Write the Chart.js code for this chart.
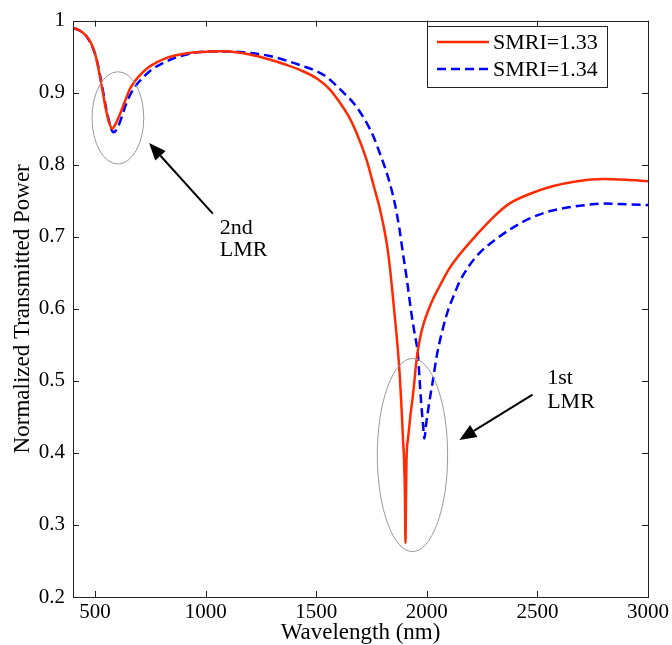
<!DOCTYPE html>
<html>
<head>
<meta charset="utf-8">
<script src="https://cdn.jsdelivr.net/npm/chart.js@4.4.1/dist/chart.umd.min.js"></script>
<style>
  html, body { margin: 0; padding: 0; background: #fff; }
</style>
</head>
<body>
<canvas id="lmrChart" width="672" height="645"></canvas>

<script>
  // data
  const redLabel = "SMRI=1.33";
  const redWavelength = [400, 425, 450, 470, 490, 505, 520, 535, 548, 562, 577, 595, 612, 635, 657, 680, 702, 740, 778, 830, 883, 950, 1018, 1080, 1139, 1200, 1289, 1360, 1438, 1506, 1560, 1605, 1645, 1681, 1726, 1763, 1785, 1805, 1820, 1833, 1846, 1858, 1869, 1878, 1886, 1892, 1897, 1901, 1903.5, 1905.5, 1908, 1915, 1925, 1935, 1944, 1951, 1962, 1974, 1988, 2004, 2030, 2057, 2102, 2147, 2223, 2300, 2373, 2470, 2568, 2680, 2794, 2900, 3000];
  const redPower = [0.990, 0.987, 0.982, 0.975, 0.963, 0.948, 0.925, 0.900, 0.878, 0.860, 0.850, 0.858, 0.870, 0.888, 0.905, 0.916, 0.924, 0.935, 0.942, 0.949, 0.953, 0.956, 0.957, 0.9575, 0.956, 0.953, 0.946, 0.939, 0.930, 0.919, 0.905, 0.887, 0.868, 0.845, 0.808, 0.767, 0.742, 0.714, 0.688, 0.657, 0.618, 0.580, 0.543, 0.505, 0.460, 0.420, 0.390, 0.340, 0.275, 0.330, 0.390, 0.420, 0.450, 0.475, 0.500, 0.523, 0.547, 0.566, 0.582, 0.596, 0.615, 0.631, 0.656, 0.675, 0.702, 0.727, 0.746, 0.760, 0.770, 0.777, 0.780, 0.779, 0.777];

  const blueLabel = "SMRI=1.34";
  const blueWavelength = [400, 425, 450, 470, 490, 510, 530, 550, 565, 582, 600, 620, 635, 660, 690, 720, 760, 800, 850, 900, 960, 1020, 1100, 1200, 1289, 1360, 1438, 1500, 1550, 1590, 1630, 1673, 1726, 1760, 1786, 1815, 1839, 1854, 1876, 1891, 1910, 1929, 1945, 1959, 1967, 1974, 1982, 1989, 1996, 2005, 2015, 2027, 2045, 2072, 2098, 2120, 2147, 2192, 2240, 2297, 2380, 2463, 2550, 2644, 2720, 2794, 2900, 3000];
  const bluePower = [0.990, 0.987, 0.982, 0.974, 0.962, 0.942, 0.912, 0.878, 0.858, 0.845, 0.850, 0.866, 0.880, 0.898, 0.912, 0.922, 0.933, 0.940, 0.947, 0.952, 0.956, 0.957, 0.957, 0.955, 0.951, 0.945, 0.937, 0.930, 0.921, 0.910, 0.898, 0.884, 0.859, 0.838, 0.817, 0.792, 0.767, 0.748, 0.711, 0.679, 0.640, 0.596, 0.565, 0.538, 0.503, 0.471, 0.442, 0.420, 0.438, 0.458, 0.478, 0.500, 0.535, 0.572, 0.600, 0.617, 0.637, 0.660, 0.678, 0.693, 0.711, 0.725, 0.735, 0.741, 0.744, 0.746, 0.745, 0.744];

  const xTicks = [500, 1000, 1500, 2000, 2500, 3000];
  const yTickLabels = ["0.2", "0.3", "0.4", "0.5", "0.6", "0.7", "0.8", "0.9", "1"];

  // annotations (data coordinates)
  const ellipses = [
    { x: 603, y: 0.865, rx: 117, ry: 0.064 },
    { x: 1935, y: 0.397, rx: 159, ry: 0.134 }
  ];
  const arrows = [
    { from: [1032, 0.732], to: [744, 0.830] },
    { from: [2478, 0.481], to: [2147, 0.418] }
  ];
  const notes = [
    { x: 1064, y: 0.712, text: "2nd" },
    { x: 1064, y: 0.682, text: "LMR" },
    { x: 2544, y: 0.503, text: "1st" },
    { x: 2544, y: 0.470, text: "LMR" }
  ];

  const FONT = "'Liberation Serif', 'Times New Roman', serif";

  function toPoints(xs, ys) {
    return xs.map((v, i) => ({ x: v, y: ys[i] }));
  }

  const decorations = {
    id: "decorations",
    afterDraw(chart) {
      const { ctx, chartArea: a, scales } = chart;
      const sx = scales.x, sy = scales.y;
      ctx.save();

      // frame + inward ticks
      ctx.strokeStyle = "#222";
      ctx.lineWidth = 1;
      ctx.strokeRect(Math.round(a.left) + 0.5, Math.round(a.top) + 0.5,
        Math.round(a.right - a.left), Math.round(a.bottom - a.top));
      ctx.beginPath();
      xTicks.forEach((t) => {
        const px = Math.round(sx.getPixelForValue(t)) + 0.5;
        ctx.moveTo(px, a.bottom); ctx.lineTo(px, a.bottom - 6);
        ctx.moveTo(px, a.top); ctx.lineTo(px, a.top + 6);
      });
      yTickLabels.forEach((t) => {
        const py = Math.round(sy.getPixelForValue(parseFloat(t))) + 0.5;
        ctx.moveTo(a.left, py); ctx.lineTo(a.left + 6, py);
        ctx.moveTo(a.right, py); ctx.lineTo(a.right - 6, py);
      });
      ctx.stroke();

      // ellipses
      ctx.strokeStyle = "#999";
      ctx.lineWidth = 1;
      ellipses.forEach((e) => {
        const cx = sx.getPixelForValue(e.x), cy = sy.getPixelForValue(e.y);
        const rx = sx.getPixelForValue(e.x + e.rx) - cx;
        const ry = cy - sy.getPixelForValue(e.y + e.ry);
        ctx.beginPath();
        ctx.ellipse(cx, cy, rx, ry, 0, 0, Math.PI * 2);
        ctx.stroke();
      });

      // arrows
      ctx.strokeStyle = "#000";
      ctx.fillStyle = "#000";
      ctx.lineWidth = 2;
      arrows.forEach((ar) => {
        const x0 = sx.getPixelForValue(ar.from[0]), y0 = sy.getPixelForValue(ar.from[1]);
        const x1 = sx.getPixelForValue(ar.to[0]), y1 = sy.getPixelForValue(ar.to[1]);
        const ang = Math.atan2(y1 - y0, x1 - x0);
        const len = 17, half = 7;
        const bx = x1 - len * Math.cos(ang), by = y1 - len * Math.sin(ang);
        ctx.beginPath();
        ctx.moveTo(x0, y0); ctx.lineTo(bx, by);
        ctx.stroke();
        ctx.beginPath();
        ctx.moveTo(x1, y1);
        ctx.lineTo(bx + half * Math.sin(ang), by - half * Math.cos(ang));
        ctx.lineTo(bx - half * Math.sin(ang), by + half * Math.cos(ang));
        ctx.closePath();
        ctx.fill();
      });

      // notes
      ctx.font = "22px " + FONT;
      ctx.textAlign = "left";
      ctx.textBaseline = "middle";
      notes.forEach((n) => {
        ctx.fillText(n.text, sx.getPixelForValue(n.x), sy.getPixelForValue(n.y));
      });

      // legend box
      const lx = 427, ly = 26, lw = 180, lh = 61;
      ctx.fillStyle = "#fff";
      ctx.fillRect(lx, ly, lw, lh);
      ctx.strokeStyle = "#222";
      ctx.lineWidth = 1;
      ctx.strokeRect(lx + 0.5, ly + 0.5, lw, lh);
      chart.data.datasets.forEach((ds, i) => {
        const yy = ly + 16 + i * 27;
        ctx.strokeStyle = ds.borderColor;
        ctx.lineWidth = ds.borderWidth;
        ctx.setLineDash(ds.borderDash || []);
        ctx.beginPath();
        ctx.moveTo(lx + 10, yy); ctx.lineTo(lx + 62, yy);
        ctx.stroke();
        ctx.setLineDash([]);
        ctx.fillStyle = "#000";
        ctx.font = "22px " + FONT;
        ctx.textBaseline = "middle";
        ctx.fillText(ds.label, lx + 66, yy + 1);
      });

      ctx.restore();
    }
  };

  const ctx = document.getElementById("lmrChart").getContext("2d");
  new Chart(ctx, {
    type: "line",
    data: {
      datasets: [
        {
          label: redLabel,
          data: toPoints(redWavelength, redPower),
          borderColor: "#ff2a00",
          borderWidth: 2.5,
          pointRadius: 0,
          fill: false,
          cubicInterpolationMode: "monotone"
        },
        {
          label: blueLabel,
          data: toPoints(blueWavelength, bluePower),
          borderColor: "#0000ff",
          borderWidth: 2.5,
          borderDash: [9, 5],
          pointRadius: 0,
          fill: false,
          cubicInterpolationMode: "monotone"
        }
      ]
    },
    options: {
      responsive: false,
      animation: false,
      layout: { padding: { top: 18, right: 23, bottom: 0, left: 0 } },
      plugins: {
        legend: { display: false },
        tooltip: { enabled: false }
      },
      scales: {
        x: {
          type: "linear",
          min: 400,
          max: 3000,
          afterBuildTicks: (s) => { s.ticks = xTicks.map((v) => ({ value: v })); },
          afterFit: (s) => { s.height = 48; },
          grid: { display: false, drawTicks: false },
          border: { display: false },
          ticks: { color: "#000", padding: 3, maxRotation: 0, font: { family: FONT, size: 21 }, callback: (value) => String(value) },
          title: { display: true, text: "Wavelength (nm)", color: "#000", padding: { top: 0, bottom: -2 }, font: { family: FONT, size: 23 } }
        },
        y: {
          min: 0.2,
          max: 1,
          afterBuildTicks: (s) => { s.ticks = yTickLabels.map((v) => ({ value: parseFloat(v) })); },
          afterFit: (s) => { s.width = 73; },
          grid: { display: false, drawTicks: false },
          border: { display: false },
          ticks: {
            color: "#000",
            padding: 8,
            font: { family: FONT, size: 21 },
            callback: (value) => yTickLabels.find((l) => Math.abs(parseFloat(l) - value) < 1e-6)
          },
          title: { display: true, text: "Normalized Transmitted Power", color: "#000", padding: { top: 9, bottom: 0 }, font: { family: FONT, size: 23 } }
        }
      }
    },
    plugins: [decorations]
  });
</script>
</body>
</html>
